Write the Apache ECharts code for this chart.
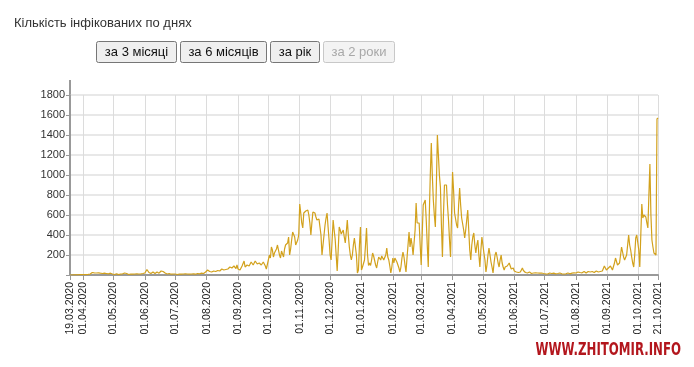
<!DOCTYPE html>
<html>
<head>
<meta charset="utf-8">
<script src="https://cdn.jsdelivr.net/npm/echarts@6/dist/echarts.min.js"></script>
<style>
html,body{margin:0;padding:0;background:#fff;}
#chart{width:694px;height:367px;}
</style>
</head>
<body>
<div id="chart"></div>
<script>
// Daily values, by month (19.03.2020 .. 21.10.2021)
const mar20 = [0,0,0,0,1,1,2,1,2,2,3,2,3];
const apr20 = [2,3,3,4,5,6,8,10,20,25,18,22,28,20,15,22,25,18,20,15,12,18,22,15,10,12,20,18,15,10];
const may20 = [8,5,10,12,6,4,8,10,15,12,8,20,25,15,10,5,6,10,12,8,6,10,8,12,15,10,8,12,10,15,20];
const jun20 = [20,30,55,40,25,20,15,25,30,20,15,20,30,20,18,25,40,45,35,25,20,15,10,12,15,10,8,12,10,8];
const jul20 = [10,8,5,6,10,12,8,5,10,15,12,8,10,12,8,6,10,15,12,10,8,12,15,10,12,15,18,20,15,25,30];
const aug20 = [40,50,30,35,45,30,25,40,50,35,30,45,55,40,35,60,70,50,45,55,65,60,50,80,100,70,50,90,75,65,100];
const sep20 = [60,80,50,70,90,110,140,80,70,100,120,90,80,130,150,100,90,140,160,110,90,120,140,100,80,130,120,90,60,50];
const oct20 = [150,200,170,280,250,180,220,200,260,300,250,200,170,240,220,180,260,300,280,320,380,200,260,350,430,450,380,300,280,350,400];
const nov20 = [710,620,520,470,620,630,640,640,650,600,520,400,520,630,620,620,580,550,560,560,550,400,200,220,400,500,570,620,480,350];
const dec20 = [200,150,350,550,450,360,200,40,250,480,450,410,430,450,380,320,430,550,400,280,200,150,200,300,370,370,200,20,50,300,480];
const jan21 = [50,80,60,150,300,470,200,95,120,95,150,220,190,170,100,70,130,180,160,150,190,170,150,130,200,270,180,150,90,20,80];
const feb21 = [170,120,170,150,130,140,70,30,80,170,230,180,100,30,170,300,430,280,370,300,200,180,450,720,520,500,520,300];
const mar21 = [100,400,700,720,750,550,300,80,600,1000,1320,1000,750,600,480,900,1400,1200,1000,880,500,180,600,900,880,900,700,550,350,180,600];
const apr21 = [1030,850,620,600,500,470,700,870,700,570,580,450,370,450,550,650,450,250,150,300,380,420,300,220,300,350,200,80,250,380];
const may21 = [370,220,150,30,100,200,270,200,130,80,20,120,200,230,180,120,80,150,200,120,80,50,80,100,90,70,120,90,60,50,70];
const jun21 = [40,35,30,50,25,35,30,40,70,45,30,25,35,20,25,30,20,15,25,20,18,22,15,20,25,18,15,20,22,15];
const jul21 = [15,12,18,10,15,20,12,15,10,18,14,12,20,15,35,20,15,12,18,10,15,12,18,20,15,12,20,18,15,22,20];
const aug21 = [20,25,30,20,25,30,22,28,35,25,20,30,35,25,30,40,35,30,25,35,40,50,30,25,35,45,40,60,90,70,50];
const sep21 = [60,70,60,90,80,50,70,120,170,150,100,80,120,200,280,230,180,150,160,200,220,400,300,250,180,120,80,200,370,400];
const oct21 = [420,250,80,400,710,570,600,620,580,520,470,800,1110,600,350,280,220,210,200,1560,1570];

const startDate = [2020, 2, 19]; // 19.03.2020
const xTickLabels = ['19.03.2020','01.04.2020','01.05.2020','01.06.2020','01.07.2020','01.08.2020',
  '01.09.2020','01.10.2020','01.11.2020','01.12.2020','01.01.2021','01.02.2021','01.03.2021',
  '01.04.2021','01.05.2021','01.06.2021','01.07.2021','01.08.2021','01.09.2021','01.10.2021','21.10.2021'];
const yTickLabels = [200,400,600,800,1000,1200,1400,1600,1800];

const titleText = 'Кількість інфікованих по днях';
const buttons = ['за 3 місяці','за 6 місяців','за рік','за 2 роки'];
const watermark = 'WWW.ZHITOMIR.INFO';

const values = [].concat(mar20,apr20,may20,jun20,jul20,aug20,sep20,oct20,nov20,dec20,
  jan21,feb21,mar21,apr21,may21,jun21,jul21,aug21,sep21,oct21);

const pad = n => (n < 10 ? '0' : '') + n;
const categories = values.map((v, i) => {
  const d = new Date(Date.UTC(startDate[0], startDate[1], startDate[2] + i));
  return pad(d.getUTCDate()) + '.' + pad(d.getUTCMonth() + 1) + '.' + d.getUTCFullYear();
});
const tickSet = new Set(xTickLabels);
const showTick = (idx, val) => tickSet.has(val !== undefined ? val : categories[idx]);

const FONT = "'Liberation Sans', Arial, sans-serif";

const btnBoxes = [[96,41,80,21],[180,41,86,21],[270,41,49,21],[323,41,71,21]];
const btnGraphics = buttons.map((t, i) => {
  const b = btnBoxes[i];
  const disabled = i === 3;
  return {
    type: 'group', left: b[0], top: b[1],
    children: [
      {type: 'rect', shape: {x: 0.5, y: 0.5, width: b[2], height: b[3], r: 2},
       style: {fill: disabled ? '#f3f3f3' : '#efefef', stroke: disabled ? '#c8c8c8' : '#767676', lineWidth: 1}},
      {type: 'text', x: b[2] / 2 + 0.5, y: b[3] / 2 + 1,
       style: {text: t, font: '13px ' + FONT, fill: disabled ? '#a8a8a8' : '#111', align: 'center', verticalAlign: 'middle'}}
    ]
  };
});

const chart = echarts.init(document.getElementById('chart'), null, {renderer: 'canvas'});
chart.setOption({
  animation: false,
  backgroundColor: '#fff',
  grid: {left: 70, right: 36, top: 95, bottom: 92, containLabel: false},
  graphic: [
    {type: 'text', left: 14, top: 17, style: {text: titleText, font: '13px ' + FONT, fill: '#333'}},
    ...btnGraphics,
    {type: 'line', shape: {x1: 70, y1: 80, x2: 70, y2: 96}, style: {stroke: '#999', lineWidth: 2}},
    {type: 'text', x: 681, y: 351, scaleX: 0.77, scaleY: 1,
     style: {text: watermark, font: 'bold 17px "Liberation Sans Narrow", "DejaVu Sans Condensed", sans-serif',
             align: 'right', verticalAlign: 'middle',
             fill: '#b3161d', shadowColor: 'rgba(0,0,0,0.25)', shadowBlur: 1, shadowOffsetX: 1, shadowOffsetY: 1}}
  ],
  xAxis: {
    type: 'category',
    data: categories,
    boundaryGap: false,
    axisLine: {lineStyle: {color: '#999', width: 2}},
    axisTick: {show: true, interval: showTick, length: 5, lineStyle: {color: '#999', width: 1}},
    axisLabel: {interval: showTick, rotate: 90, margin: 7, color: '#222', fontSize: 10.5, fontFamily: FONT},
    splitLine: {show: true, interval: showTick, lineStyle: {color: '#dcdcdc', width: 1}}
  },
  yAxis: {
    type: 'value', min: 0, max: 1800, interval: 200,
    axisLine: {show: true, lineStyle: {color: '#999', width: 2}},
    axisTick: {show: true, length: 4, lineStyle: {color: '#999'}},
    axisLabel: {color: '#333', fontSize: 11, fontFamily: FONT, margin: 5,
      formatter: v => (yTickLabels.indexOf(v) >= 0 ? String(v) : '')},
    splitLine: {show: true, lineStyle: {color: '#e8e8e8', width: 2}}
  },
  series: [{
    type: 'line',
    data: values,
    showSymbol: false,
    symbol: 'none',
    lineStyle: {color: '#d2a11c', width: 1.2},
    itemStyle: {color: '#d2a11c'}
  }]
});
</script>
</body>
</html>
